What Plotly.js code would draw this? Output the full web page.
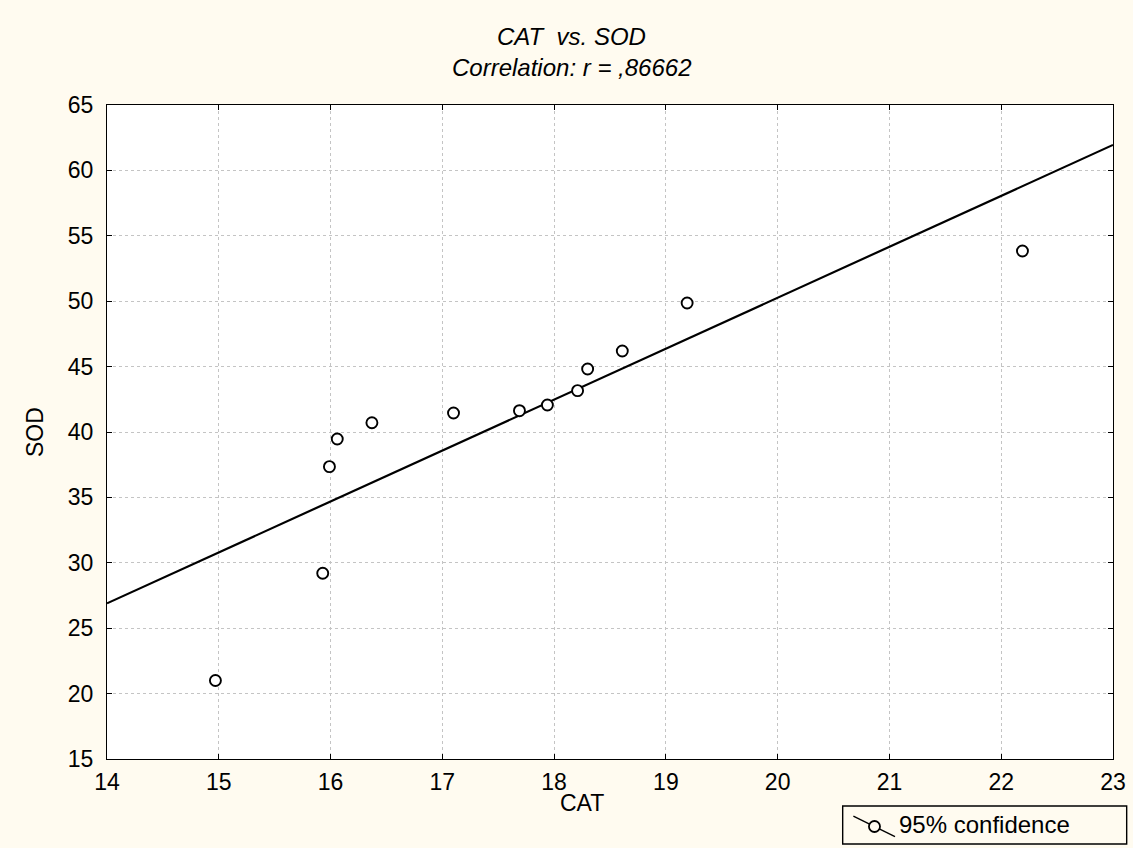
<!DOCTYPE html>
<html>
<head>
<meta charset="utf-8">
<script src="https://cdn.plot.ly/plotly-3.0.1.min.js"></script>
<style>html,body{margin:0;padding:0;background:#FFFBF0;}</style>
</head>
<body>
<div id="chart" style="width:1133px;height:848px;"></div>
<script>
// Data
const catValues = [14.97, 15.93, 15.99, 16.06, 16.37, 17.10, 17.69, 17.94, 18.21, 18.30, 18.61, 19.19, 22.19];
const sodValues = [21.0, 29.2, 37.35, 39.46, 40.71, 41.45, 41.63, 42.06, 43.16, 44.82, 46.19, 49.86, 53.84];
const fitX = [14, 23];
const fitY = [26.9, 61.95];
const xTicks = [14, 15, 16, 17, 18, 19, 20, 21, 22, 23];
const yTicks = [15, 20, 25, 30, 35, 40, 45, 50, 55, 60, 65];
const titleLine1 = "CAT  vs. SOD";
const titleLine2 = "Correlation: r = ,86662";
const xLabel = "CAT";
const yLabel = "SOD";
const legendLabel = "95% confidence";

const font = "Arial, 'Liberation Sans', sans-serif";
const fsTick = 23;
const fsText = 24;

const traces = [
  {
    x: fitX, y: fitY, mode: 'lines', type: 'scatter',
    line: {color: '#000', width: 2.2}, showlegend: false, hoverinfo: 'skip'
  },
  {
    x: catValues, y: sodValues, mode: 'markers', type: 'scatter',
    marker: {symbol: 'circle', size: 11, color: '#fff', line: {color: '#000', width: 1.9}},
    showlegend: false
  }
];

const axisCommon = {
  showline: true, linecolor: '#000', linewidth: 1, mirror: 'ticks',
  ticks: 'inside', ticklen: 5, tickcolor: '#000', tickwidth: 1,
  showgrid: true, gridcolor: '#c4c4c4', gridwidth: 1, griddash: 'dot',
  zeroline: false, tickfont: {family: font, size: fsTick, color: '#000'}
};

const layout = {
  width: 1133, height: 848,
  paper_bgcolor: '#FFFBF0', plot_bgcolor: '#ffffff',
  margin: {l: 107, r: 20, t: 105, b: 89},
  showlegend: false,
  xaxis: Object.assign({}, axisCommon, {
    range: [14, 23], tickvals: xTicks, ticktext: xTicks.map(String), ticklabelstandoff: 2
  }),
  yaxis: Object.assign({}, axisCommon, {
    range: [15, 65], tickvals: yTicks, ticktext: yTicks.map(String), ticklabelstandoff: 8
  }),
  annotations: [
    {text: titleLine1, xref: 'paper', yref: 'paper', x: 0.4613, y: 1.1055, xanchor: 'center', yanchor: 'middle',
     showarrow: false, font: {family: font, size: fsText, color: '#000', style: 'italic'}},
    {text: titleLine2, xref: 'paper', yref: 'paper', x: 0.4613, y: 1.0566, xanchor: 'center', yanchor: 'middle',
     showarrow: false, font: {family: font, size: fsText, color: '#000', style: 'italic'}},
    {text: xLabel, xref: 'paper', yref: 'paper', x: 0.472, y: -0.0673, xanchor: 'center', yanchor: 'middle',
     showarrow: false, font: {family: font, size: fsTick, color: '#000'}},
    {text: yLabel, xref: 'paper', yref: 'paper', x: -0.0716, y: 0.5, xanchor: 'center', yanchor: 'middle',
     textangle: -90, showarrow: false, font: {family: font, size: fsTick, color: '#000'}},
    {text: legendLabel, xref: 'paper', yref: 'paper', x: 0.7848, y: -0.1009, xanchor: 'left', yanchor: 'middle',
     showarrow: false, font: {family: font, size: fsText, color: '#000'}}
  ],
  shapes: [
    {type: 'rect', xref: 'paper', yref: 'paper', x0: 0.7313, x1: 1.0136, y0: -0.130, y1: -0.0719,
     line: {color: '#000', width: 1.4}, fillcolor: 'rgba(0,0,0,0)'},
    {type: 'line', xref: 'paper', yref: 'paper', x0: 0.7419, y0: -0.0872, x1: 0.7833, y1: -0.1188,
     line: {color: '#000', width: 1.4}},
    {type: 'circle', xref: 'paper', yref: 'paper', x0: 0.7574, x1: 0.7684, y0: -0.1116, y1: -0.0948,
     line: {color: '#000', width: 1.8}, fillcolor: '#FFFBF0'}
  ]
};

Plotly.newPlot('chart', traces, layout, {displayModeBar: false, staticPlot: true});
</script>
</body>
</html>
